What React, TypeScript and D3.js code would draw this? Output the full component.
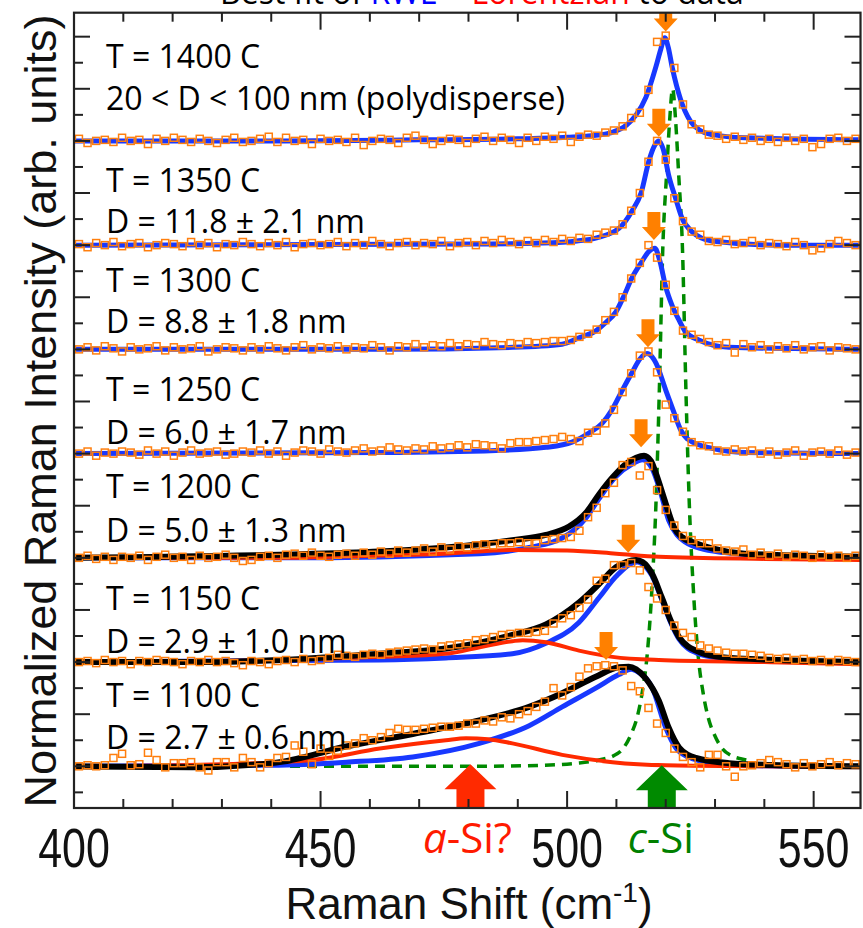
import React from "react";
import * as d3 from "d3";

// ---------- data ----------
const seriesNames = ["1400", "1350", "1300", "1250", "1200", "1150", "1100"];
const seriesOffset = [6, 5, 4, 3, 2, 1, 0];
const tLabels = ["T = 1400 C", "T = 1350 C", "T = 1300 C", "T = 1250 C", "T = 1200 C", "T = 1150 C", "T = 1100 C"];
const dLabels = [
  "20 < D < 100 nm (polydisperse)",
  "D = 11.8 ± 2.1 nm",
  "D = 8.8 ± 1.8 nm",
  "D = 6.0 ± 1.7 nm",
  "D = 5.0 ± 1.3 nm",
  "D = 2.9 ± 1.0 nm",
  "D = 2.7 ± 0.6 nm",
];

// measured spectrum sampling (cm^-1)
const specStart = 401;
const specStep = 1.75;

const data1400 = [
  0.02, -0.02, 0.0, 0.01, -0.01, 0.03, 0.0, 0.01, -0.03, 0.02,
  0.0, 0.03, 0.01, -0.01, 0.02, 0.0, -0.02, 0.01, 0.03, -0.01,
  0.0, 0.02, 0.04, -0.01, 0.03, 0.0, 0.01, -0.03, 0.02, 0.0,
  0.01, -0.01, 0.03, -0.04, 0.0, 0.02, 0.01, -0.02, 0.03, 0.05,
  0.01, -0.03, 0.0, 0.02, 0.01, -0.02, 0.02, 0.04, 0.0, 0.03,
  0.01, -0.02, 0.03, 0.0, 0.04, 0.02, 0.05, -0.01, 0.04, 0.06,
  0.05, 0.08, 0.1, 0.14, 0.22, 0.27, 0.49, 0.95, 1.01, 0.7,
  0.35, 0.16, 0.11, 0.06, 0.05, 0.02, 0.04, 0.01, 0.03, 0.0,
  0.02, -0.01, 0.03, 0.0, 0.02, -0.06, -0.03, 0.02, 0.03, 0.0,
  0.02,
];
const data1350 = [
  0.01, -0.02, 0.02, 0.0, 0.03, -0.01, 0.01, 0.02, -0.02, 0.0,
  0.02, 0.01, -0.01, 0.03, 0.0, 0.02, -0.02, 0.01, 0.0, 0.03,
  0.01, -0.01, 0.02, 0.0, 0.03, -0.02, 0.01, 0.02, 0.0, 0.01,
  0.03, -0.01, 0.02, 0.0, 0.04, 0.01, -0.01, 0.02, 0.03, 0.0,
  0.02, 0.01, 0.04, -0.01, 0.02, 0.03, 0.0, 0.04, 0.02, 0.05,
  0.03, 0.01, 0.04, 0.02, 0.05, 0.03, 0.06, 0.04, 0.07, 0.06,
  0.1, 0.12, 0.14, 0.2, 0.33, 0.5, 0.8, 1.0, 0.82, 0.45,
  0.23, 0.13, 0.1, 0.04, 0.03, 0.05, 0.01, 0.02, 0.04, 0.0,
  0.02, 0.01, -0.01, 0.03, 0.0, -0.05, -0.03, 0.01, 0.04, 0.02,
  0.0,
];
const data1300 = [
  0.0, 0.02, -0.01, 0.03, 0.01, -0.02, 0.02, 0.0, 0.01, 0.03,
  -0.01, 0.02, 0.0, 0.01, 0.03, -0.02, 0.0, 0.02, 0.01, -0.01,
  0.02, 0.0, 0.03, 0.01, -0.01, 0.02, 0.04, 0.0, 0.02, 0.01,
  0.03, 0.0, 0.02, 0.01, 0.04, 0.02, -0.01, 0.03, 0.02, 0.05,
  0.02, 0.04, 0.03, 0.06, 0.03, 0.05, 0.04, 0.07, 0.05, 0.04,
  0.06, 0.05, 0.07, 0.06, 0.07, 0.08, 0.08, 0.09, 0.12, 0.15,
  0.19, 0.28, 0.36, 0.5, 0.68, 0.83, 1.0, 0.88, 0.62, 0.37,
  0.18, 0.14, 0.1, 0.07, 0.04, 0.06, -0.03, 0.05, 0.02, 0.04,
  0.0, 0.03, 0.01, 0.04, 0.0, 0.02, 0.03, -0.01, 0.02, 0.01,
  0.0,
];
const data1250 = [
  0.0, 0.02, -0.02, 0.01, 0.0, 0.02, 0.01, -0.01, 0.03, 0.0,
  0.02, -0.02, 0.01, 0.03, 0.0, 0.01, 0.02, -0.01, 0.0, 0.02,
  0.01, 0.03, 0.0, 0.02, -0.02, 0.01, 0.03, 0.02, 0.0, 0.04,
  0.02, 0.01, 0.03, 0.05, 0.02, 0.03, 0.06, 0.04, 0.03, 0.05,
  0.04, 0.07, 0.05, 0.06, 0.08, 0.06, 0.09, 0.08, 0.07, 0.05,
  0.1, 0.11, 0.11, 0.12, 0.13, 0.14, 0.16, 0.14, 0.12, 0.2,
  0.22, 0.29, 0.42, 0.59, 0.77, 0.94, 0.98, 0.78, 0.47, 0.34,
  0.21, 0.11, 0.08, 0.07, 0.03, 0.02, 0.04, 0.02, 0.03, 0.0,
  0.02, -0.01, 0.01, 0.03, -0.02, 0.01, 0.02, 0.0, 0.03, -0.01,
  0.01,
];
const data1200 = [
  0.0, 0.02, -0.01, 0.01, -0.02, 0.01, 0.0, 0.02, -0.02, 0.01,
  0.03, 0.0, 0.01, -0.02, 0.02, 0.0, 0.01, 0.03, 0.0, -0.03,
  -0.02, 0.01, 0.02, 0.0, 0.03, 0.04, 0.02, 0.05, 0.02, 0.01,
  0.03, 0.04, 0.02, 0.05, 0.03, 0.06, 0.04, 0.07, 0.05, 0.07,
  0.09, 0.06, 0.1, 0.08, 0.11, 0.1, 0.12, 0.13, 0.12, 0.14,
  0.14, 0.15, 0.14, 0.14, 0.17, 0.18, 0.19, 0.2, 0.26, 0.39,
  0.48, 0.62, 0.72, 0.89, 0.92, 0.79, 0.88, 0.65, 0.46, 0.31,
  0.21, 0.17, 0.14, 0.14, 0.09, 0.07, 0.06, 0.08, 0.03, 0.05,
  0.02, 0.04, 0.01, 0.03, 0.02, 0.0, 0.03, 0.01, 0.02, 0.0,
  0.02,
];
const data1150 = [
  0.0, 0.01, -0.01, 0.02, 0.0, 0.01, -0.02, 0.01, 0.0, 0.02,
  0.01, 0.0, -0.02, 0.01, 0.0, 0.02, 0.0, 0.01, -0.01, -0.03,
  0.01, 0.0, -0.02, 0.01, 0.02, 0.0, 0.03, 0.01, 0.02, 0.04,
  0.07, 0.06, 0.05, 0.07, 0.08, 0.07, 0.09, 0.1, 0.11, 0.12,
  0.13, 0.12, 0.15, 0.16, 0.17, 0.18, 0.21, 0.22, 0.24, 0.26,
  0.27, 0.28, 0.28, 0.29, 0.3, 0.37, 0.42, 0.45, 0.52, 0.6,
  0.78, 0.8, 0.93, 0.93, 0.95, 0.88, 0.72, 0.61, 0.5, 0.35,
  0.28, 0.24, 0.16, 0.13, 0.11, 0.09, 0.08, 0.08, 0.07, 0.06,
  0.04, 0.03, 0.04, 0.02, 0.03, 0.01, 0.02, 0.0, 0.02, 0.01,
  0.0,
];
const data1100 = [
  0.0, 0.01, 0.0, 0.01, 0.08, 0.12, 0.01, 0.02, 0.13, 0.06,
  -0.01, 0.03, 0.03, 0.04, -0.01, -0.04, 0.04, 0.04, -0.01, 0.08,
  0.04, -0.01, 0.03, 0.08, 0.09, 0.2, 0.14, 0.02, 0.17, 0.1,
  0.15, 0.2, 0.22, 0.27, 0.25, 0.28, 0.32, 0.36, 0.35, 0.35,
  0.36, 0.37, 0.38, 0.38, 0.39, 0.41, 0.41, 0.44, 0.43, 0.47,
  0.46, 0.5, 0.53, 0.57, 0.62, 0.75, 0.68, 0.76, 0.86, 0.94,
  0.96, 0.97, 0.96, 0.92, 0.77, 0.72, 0.56, 0.41, 0.32, 0.17,
  0.09, 0.04, -0.01, 0.11, 0.11, 0.0, -0.1, 0.0, 0.01, 0.03,
  0.06, 0.04, 0.02, -0.01, 0.03, 0.0, 0.02, 0.04, 0.01, 0.03,
  0.02,
];
const seriesData = [data1400, data1350, data1300, data1250, data1200, data1150, data1100];

// RWL (blue) fits, [cm^-1, intensity]
const blue1400 = [[400, 0], [440, 0], [470, 0.01], [490, 0.02], [500, 0.035], [505, 0.05], [509, 0.08], [512, 0.15], [514, 0.25], [516, 0.42], [518, 0.71], [519, 0.88], [519.8, 0.99], [520.5, 0.9], [521.3, 0.71], [523, 0.4], [525, 0.19], [527, 0.1], [529.5, 0.06], [536, 0.03], [559.5, 0.01]];
const blue1350 = [[400, 0], [480, 0.01], [495, 0.02], [502, 0.04], [506, 0.07], [510.5, 0.16], [513.2, 0.33], [515, 0.5], [516.6, 0.81], [517.8, 0.96], [518.6, 1.0], [519.5, 0.92], [520.6, 0.67], [522, 0.45], [523.3, 0.26], [525.3, 0.13], [529.4, 0.04], [543, 0], [559.5, 0]];
const blue1300 = [[400, 0], [462, 0], [489, 0.02], [499, 0.05], [502.4, 0.11], [505.9, 0.18], [507.9, 0.26], [509.9, 0.36], [511.5, 0.51], [513.2, 0.69], [515, 0.83], [516.6, 0.94], [517.8, 0.97], [518.8, 0.85], [520, 0.6], [521.3, 0.42], [522.7, 0.28], [524, 0.17], [526.7, 0.09], [532.8, 0.02], [559.5, 0]];
const blue1250 = [[400, 0], [462, 0.01], [485.6, 0.03], [495.7, 0.06], [501, 0.11], [504.5, 0.2], [507.1, 0.29], [509.1, 0.42], [511.1, 0.6], [513.2, 0.78], [514.8, 0.91], [516.2, 0.96], [517.2, 0.93], [518, 0.87], [520, 0.61], [521.7, 0.39], [523, 0.23], [524.7, 0.13], [529.4, 0.05], [536.2, 0.01], [559.5, 0]];
const blue1200 = [[400, 0], [441.7, 0], [482.2, 0.04], [492.3, 0.1], [499, 0.19], [503.8, 0.38], [506.5, 0.57], [509.9, 0.78], [513.2, 0.9], [515.3, 0.94], [516.5, 0.91], [517.3, 0.85], [519, 0.62], [520.6, 0.36], [522.3, 0.22], [524, 0.15], [527, 0.09], [532, 0.05], [540, 0.02], [559.5, 0]];
const blue1150 = [[400, 0], [462, 0.02], [475.4, 0.04], [488.9, 0.08], [495.7, 0.18], [502.4, 0.38], [506.5, 0.62], [509.9, 0.82], [513.2, 0.95], [514.3, 0.96], [515.3, 0.94], [517.2, 0.83], [519.2, 0.6], [521, 0.38], [522.7, 0.22], [524.5, 0.13], [526.1, 0.09], [530.8, 0.04], [543, 0.01], [559.5, 0]];
const blue1100 = [[400, 0], [440, 0.01], [455.2, 0.04], [468.7, 0.09], [482.2, 0.22], [492.3, 0.39], [499, 0.57], [505.8, 0.75], [510.5, 0.88], [513, 0.93], [514.5, 0.9], [517.2, 0.76], [520, 0.37], [522, 0.18], [524.5, 0.09], [527, 0.05], [533, 0.02], [545, 0], [559.5, 0]];
const blueFits = [blue1400, blue1350, blue1300, blue1250, blue1200, blue1150, blue1100];

// Lorentzian a-Si (red) components
const red1200 = [[400, 0], [441.7, 0], [460, 0.02], [475, 0.04], [489, 0.075], [500, 0.07], [510, 0.04], [518.6, 0.01], [540, -0.01], [559.5, -0.02]];
const red1150 = [[400, 0], [441.7, 0.02], [462, 0.05], [475.4, 0.08], [483, 0.15], [488.9, 0.2], [491, 0.21], [495.7, 0.19], [502.4, 0.11], [509.2, 0.05], [518.6, 0.02], [540, 0], [559.5, -0.02]];
const red1100 = [[400, 0], [430, 0.02], [448.4, 0.06], [462, 0.17], [475.4, 0.25], [479.5, 0.27], [484, 0.26], [488.9, 0.22], [499, 0.11], [509.2, 0.04], [520, 0.01], [540, 0], [559.5, -0.01]];
const redFits = [null, null, null, null, red1200, red1150, red1100];

// Total fits (black) = RWL + Lorentzian
const black1200 = [[400, 0], [441.7, 0.03], [462, 0.06], [475.4, 0.1], [488.9, 0.17], [495.7, 0.22], [500.4, 0.3], [503.8, 0.43], [506.5, 0.61], [509.2, 0.77], [511.9, 0.9], [514, 0.96], [515.6, 0.98], [517, 0.93], [518, 0.81], [520, 0.52], [521.7, 0.29], [523.3, 0.2], [526.1, 0.14], [529.4, 0.09], [536, 0.04], [559.5, 0.01]];
const black1150 = [[400, 0], [424, 0], [441.7, 0.02], [462, 0.08], [475.4, 0.13], [488.9, 0.26], [495.7, 0.36], [502.4, 0.57], [506.5, 0.75], [509.9, 0.91], [512, 0.96], [514, 0.98], [515.3, 0.96], [517.2, 0.85], [519.2, 0.62], [521, 0.4], [522.7, 0.24], [524.5, 0.15], [526.1, 0.11], [530.8, 0.05], [543, 0.02], [559.5, 0]];
const black1100 = [[400, 0], [424, -0.01], [437.7, 0.02], [441.7, 0.04], [455.2, 0.19], [468.7, 0.31], [482.2, 0.44], [492.3, 0.57], [499, 0.7], [505.8, 0.86], [510.5, 0.95], [512.5, 0.955], [514, 0.93], [516, 0.84], [518.6, 0.63], [520.6, 0.37], [522.7, 0.18], [524.5, 0.11], [526.1, 0.08], [532.8, 0.03], [543, 0.01], [559.5, 0]];
const blackFits = [null, null, null, null, black1200, black1150, black1100];

// c-Si reference Lorentzian (green dashed), relative to the bottom spectrum
const greenRef = [[443.8, 0], [480, 0], [495, 0.01], [502, 0.03], [505.4, 0.05], [507.4, 0.07], [509.4, 0.1], [511.5, 0.18], [512.9, 0.3], [514.2, 0.47], [515.2, 0.7], [516.2, 1.05], [517.2, 1.7], [518.05, 2.56], [518.7, 3.6], [519.4, 4.96], [520.2, 5.7], [520.8, 6.2], [521.4, 6.5], [522.0, 6.2], [522.6, 5.7], [523.4, 4.96], [524.1, 3.6], [524.75, 2.56], [525.6, 1.7], [526.6, 1.05], [527.6, 0.7], [528.6, 0.47], [529.9, 0.3], [531.3, 0.18], [533.4, 0.1], [535.4, 0.07], [537.4, 0.05]];

// peak markers (orange arrows): position and tip height
const peakMarkX = [520.0, 518.6, 517.6, 516.4, 515.0, 512.4, 507.9];
const peakMarkY = [1.05, 1.04, 1.05, 1.02, 1.06, 1.05, 1.02];

const aSiPos = 480.4;
const cSiPos = 519.2;

const xTickValues = d3.range(400, 551, 10);
const xTickLabels = [400, 450, 500, 550];
const yTickValues = d3.range(-0.25, 7.01, 0.25);

// ---------- layout ----------
const W = 863;
const H = 928;
const X0 = 74, X1 = 860.5, Y0 = 808, Y1 = 12.7;
const tLabelDy = [72.8, 53, 57, 53, 60, 52, 59];
const dLabelDy = [30.8, 12, 16, 10, 16, 9, 17];

const C = {
  blue: "#1838ff",
  black: "#000000",
  red: "#ff2a00",
  green: "#008a00",
  orange: "#ff7f0e",
  arrow: "#ff8000",
};

export default function App() {
  const x = d3.scaleLinear().domain([400, 559.5]).range([X0, X1]);
  const y = d3.scaleLinear().domain([-0.4, 7.23]).range([Y0, Y1]);

  const lineFor = (off: number) =>
    d3
      .line<number[]>()
      .x((d) => x(d[0]))
      .y((d) => y(d[1] + off))
      .curve(d3.curveMonotoneX);

  const sansAxis = "'Liberation Sans', Arial, Helvetica, sans-serif";
  const sansNote = "'Open Sans', 'Noto Sans', sans-serif";

  const orangeArrow = (cx: number, tip: number) =>
    `M${cx - 6.5},${tip - 28} L${cx + 6.5},${tip - 28} L${cx + 6.5},${tip - 13} L${cx + 12},${tip - 13} L${cx},${tip} L${cx - 12},${tip - 13} L${cx - 6.5},${tip - 13} Z`;
  const upArrow = (cx: number, tip: number, base: number) =>
    `M${cx},${tip} L${cx + 26},${tip + 25} L${cx + 14},${tip + 25} L${cx + 14},${base} L${cx - 14},${base} L${cx - 14},${tip + 25} L${cx - 26},${tip + 25} Z`;

  return (
    <svg
      width={W}
      height={H}
      viewBox={`0 0 ${W} ${H}`}
      style={{ position: "absolute", left: 0, top: 0, background: "#fff" }}
    >
      <rect x={0} y={0} width={W} height={H} fill="#fff" />
      {/* title (partly cut at top, as in the source figure) */}
      <text x={220} y={4} fontFamily={sansNote} fontSize={32} fill="#000">
        <tspan>Best fit of </tspan>
        <tspan fill="#0000ff">RWL</tspan>
        <tspan> + </tspan>
        <tspan fill="#ff0000">Lorentzian</tspan>
        <tspan> to data</tspan>
      </text>

      <defs>
        <clipPath id="plotClip">
          <rect x={X0} y={Y1} width={X1 - X0} height={Y0 - Y1} />
        </clipPath>
      </defs>

      <g clipPath="url(#plotClip)">
        {/* c-Si reference */}
        <path
          d={lineFor(0)(greenRef) || ""}
          fill="none"
          stroke={C.green}
          strokeWidth={3.5}
          strokeDasharray="10,7"
        />
        {seriesNames.map((name, i) => {
          const off = seriesOffset[i];
          const ln = lineFor(off);
          const red = redFits[i];
          const black = blackFits[i];
          return (
            <g key={name}>
              <path d={ln(blueFits[i]) || ""} fill="none" stroke={C.blue} strokeWidth={5} />
              {red && <path d={ln(red) || ""} fill="none" stroke={C.red} strokeWidth={4} />}
              {black && <path d={ln(black) || ""} fill="none" stroke={C.black} strokeWidth={6} />}
              {seriesData[i].map((v, k) => (
                <rect
                  key={k}
                  x={x(specStart + specStep * k) - 3.5}
                  y={y(v + off) - 3.5}
                  width={7}
                  height={7}
                  fill="none"
                  stroke={C.orange}
                  strokeWidth={1.5}
                />
              ))}
            </g>
          );
        })}
        {/* peak markers */}
        {seriesNames.map((name, i) => (
          <path
            key={"a" + name}
            d={orangeArrow(x(peakMarkX[i]), y(peakMarkY[i] + seriesOffset[i]))}
            fill={C.arrow}
          />
        ))}
      </g>

      {/* a-Si / c-Si markers */}
      <path d={upArrow(x(aSiPos), y(0) - 2, Y0)} fill="#ff2a00" />
      <path d={upArrow(x(cSiPos), y(0) - 1, Y0)} fill="#008a00" />

      {/* annotations */}
      {seriesNames.map((name, i) => {
        const base = y(seriesOffset[i]);
        return (
          <g key={"t" + name} fontFamily={sansNote} fontSize={32} fill="#000">
            <text x={106} y={base - tLabelDy[i]}>{tLabels[i]}</text>
            <text x={106} y={base - dLabelDy[i]}>{dLabels[i]}</text>
          </g>
        );
      })}

      {/* frame */}
      <rect x={X0} y={Y1} width={X1 - X0} height={Y0 - Y1} fill="none" stroke="#222" strokeWidth={2.2} />

      {/* x ticks (bottom & top, inward) */}
      {xTickValues.map((v) => {
        const major = v % 50 === 0;
        const len = major ? 17 : 9;
        const px = x(v);
        return (
          <g key={"xt" + v} stroke="#222" strokeWidth={2}>
            <line x1={px} x2={px} y1={Y0} y2={Y0 - len} />
            <line x1={px} x2={px} y1={Y1} y2={Y1 + len} />
          </g>
        );
      })}
      {/* y ticks (left & right, inward) */}
      {yTickValues.map((v) => {
        const major = Math.abs(v * 2 - Math.round(v * 2)) < 1e-6;
        const len = major ? 16 : 9;
        const py = y(v);
        return (
          <g key={"yt" + v} stroke="#222" strokeWidth={2}>
            <line x1={X0} x2={X0 + len} y1={py} y2={py} />
            <line x1={X1} x2={X1 - len} y1={py} y2={py} />
          </g>
        );
      })}

      {/* x tick labels */}
      {xTickLabels.map((v) => (
        <text
          key={"xl" + v}
          transform={`translate(${x(v)},867) scale(1,1.3)`}
          textAnchor="middle"
          fontFamily={sansAxis}
          fontSize={43}
          fill="#111"
        >
          {v}
        </text>
      ))}

      {/* a-Si? / c-Si labels */}
      <text x={x(aSiPos) - 3} y={853} textAnchor="middle" fontFamily={sansNote} fontSize={42} fill="#ff1a00">
        <tspan fontStyle="italic">a</tspan>-Si?
      </text>
      <text x={x(cSiPos) - 1} y={853} textAnchor="middle" fontFamily={sansNote} fontSize={42} fill="#008000">
        <tspan fontStyle="italic">c</tspan>-Si
      </text>

      {/* axis titles */}
      <text x={469} y={919} textAnchor="middle" fontFamily={sansAxis} fontSize={44} fill="#111">
        Raman Shift (cm
        <tspan fontSize={28} dy={-17}>-1</tspan>
        <tspan dy={17}>)</tspan>
      </text>
      <text
        transform="translate(56,411) rotate(-90)"
        textAnchor="middle"
        fontFamily={sansAxis}
        fontSize={45}
        fill="#111"
      >
        Normalized Raman Intensity (arb. units)
      </text>
    </svg>
  );
}
